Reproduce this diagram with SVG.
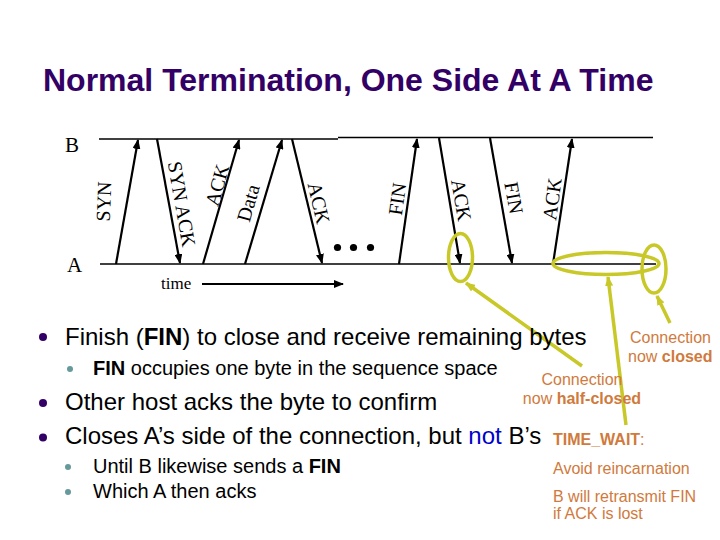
<svg xmlns="http://www.w3.org/2000/svg" width="720" height="540" viewBox="0 0 720 540">
<defs>
<marker id="ah" markerUnits="userSpaceOnUse" markerWidth="10" markerHeight="8" refX="9" refY="4" orient="auto">
<path d="M0,0 L10,4 L0,8 Z" fill="#000"/>
</marker>
<marker id="ys" markerUnits="userSpaceOnUse" markerWidth="10" markerHeight="8" refX="9" refY="4" orient="auto">
<path d="M0,0 L10,4 L0,8 Z" fill="#c8c828"/>
</marker>
<style>
.tl{stroke:#000;stroke-width:1.3;fill:none}
.msg{stroke:#000;stroke-width:2.2;fill:none;marker-end:url(#ah)}
.lbl{font-family:"Liberation Serif","Times New Roman",serif;font-size:20px;fill:#000;text-anchor:middle}
.host{font-family:"Liberation Serif","Times New Roman",serif;font-size:21px;fill:#000}
.ttl{font-family:"Liberation Sans",Arial,sans-serif;font-size:32px;font-weight:bold;fill:#330066}
.b1{font-family:"Liberation Sans",Arial,sans-serif;font-size:24px;fill:#000}
.b2{font-family:"Liberation Sans",Arial,sans-serif;font-size:20px;fill:#000}
.ann{font-family:"Liberation Sans",Arial,sans-serif;font-size:16px;fill:#d07a3c}
.yl{stroke:#c8c828;stroke-width:3.5;fill:none}
.ya{stroke:#c8c828;stroke-width:3.5;fill:none;marker-end:url(#ys)}
.d1{fill:#330066}
.d2{fill:#669999}
</style>
</defs>
<rect width="720" height="540" fill="#fff"/>
<text class="ttl" x="43" y="91">Normal Termination, One Side At A Time</text>

<g id="hostB">
<line class="tl" x1="99" y1="139" x2="338" y2="139"/>
<line class="tl" x1="338" y1="137.5" x2="653" y2="137.5"/>
<text class="host" x="65" y="152">B</text>
</g>
<g id="hostA">
<line class="tl" x1="100" y1="264" x2="656" y2="264"/>
<text class="host" x="67" y="272">A</text>
</g>

<g id="connectors">
<line class="msg" x1="116" y1="264" x2="138" y2="140"/>
<line class="msg" x1="157" y1="139" x2="180" y2="263"/>
<line class="msg" x1="203" y1="264" x2="239" y2="140"/>
<line class="msg" x1="245" y1="264" x2="282" y2="140"/>
<line class="msg" x1="292" y1="139" x2="322" y2="263"/>
<line class="msg" x1="399" y1="264" x2="417" y2="139"/>
<line class="msg" x1="439" y1="138" x2="460" y2="263"/>
<line class="msg" x1="490" y1="138" x2="512" y2="263"/>
<line class="msg" x1="553" y1="264" x2="572" y2="139"/>
<line class="msg" x1="202" y1="284" x2="343" y2="284"/>
</g>

<g id="labels">
<text class="lbl" transform="translate(103.5,201.5) rotate(-88)" y="7">SYN</text>
<text class="lbl" transform="translate(182,204) rotate(80)" y="7">SYN ACK</text>
<text class="lbl" transform="translate(217,185) rotate(-74)" y="7">ACK</text>
<text class="lbl" transform="translate(248,203) rotate(-74)" y="7">Data</text>
<text class="lbl" transform="translate(319,203) rotate(77)" y="7">ACK</text>
<text class="lbl" transform="translate(397,199) rotate(-82)" y="7">FIN</text>
<text class="lbl" transform="translate(461.5,200) rotate(80)" y="7">ACK</text>
<text class="lbl" transform="translate(514,198) rotate(80)" y="7">FIN</text>
<text class="lbl" transform="translate(552,199) rotate(-82)" y="7">ACK</text>
<text class="lbl" x="161" y="289" style="text-anchor:start;font-size:17px">time</text>
<circle cx="337.5" cy="247.5" r="3.6" fill="#000"/>
<circle cx="353.5" cy="247.5" r="3.6" fill="#000"/>
<circle cx="370.5" cy="247.5" r="3.6" fill="#000"/>
</g>

<g id="annotations">
<ellipse class="yl" cx="460.5" cy="257.5" rx="12" ry="24"/>
<ellipse class="yl" cx="606" cy="263.5" rx="53" ry="11"/>
<ellipse class="yl" cx="654" cy="269" rx="12" ry="24"/>
<line class="ya" x1="582" y1="366" x2="466" y2="283"/>
<line class="ya" x1="626" y1="425" x2="608" y2="277"/>
<line class="ya" x1="670" y1="323" x2="657" y2="296"/>
<text class="ann" x="630" y="343">Connection</text>
<text class="ann" x="628" y="362">now <tspan font-weight="bold">closed</tspan></text>
<text class="ann" x="582" y="385" text-anchor="middle">Connection</text>
<text class="ann" x="582" y="404" text-anchor="middle">now <tspan font-weight="bold">half-closed</tspan></text>
<text class="ann" x="553" y="445"><tspan font-weight="bold">TIME_WAIT</tspan>:</text>
<text class="ann" x="553" y="474">Avoid reincarnation</text>
<text class="ann" x="553" y="502">B will retransmit FIN</text>
<text class="ann" x="553" y="519">if ACK is lost</text>
</g>

<g id="bullets">
<circle class="d1" cx="43" cy="337" r="4"/>
<text class="b1" x="65" y="345">Finish (<tspan font-weight="bold">FIN</tspan>) to close and receive remaining bytes</text>
<circle class="d2" cx="70" cy="369" r="3"/>
<text class="b2" x="93" y="375"><tspan font-weight="bold">FIN</tspan> occupies one byte in the sequence space</text>
<circle class="d1" cx="43" cy="403" r="4"/>
<text class="b1" x="65" y="410">Other host acks the byte to confirm</text>
<circle class="d1" cx="43" cy="437.5" r="4"/>
<text class="b1" x="65" y="444">Closes A’s side of the connection, but <tspan fill="#0000cc">not</tspan> B’s</text>
<circle class="d2" cx="68" cy="467" r="3"/>
<text class="b2" x="93" y="473">Until B likewise sends a <tspan font-weight="bold">FIN</tspan></text>
<circle class="d2" cx="68" cy="492" r="3"/>
<text class="b2" x="93" y="498">Which A then acks</text>
</g>
</svg>
